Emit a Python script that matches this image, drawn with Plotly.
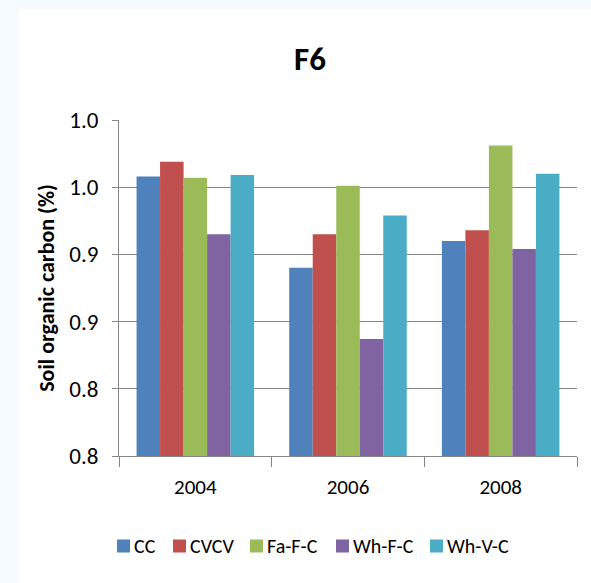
import plotly.graph_objects as go

# Soil organic carbon (%) by rotation and year, field F6
years = ["2004", "2006", "2008"]
cc = [0.958, 0.890, 0.910]
cvcv = [0.969, 0.915, 0.918]
fa_f_c = [0.957, 0.951, 0.981]
wh_f_c = [0.915, 0.837, 0.904]
wh_v_c = [0.959, 0.929, 0.960]

series_names = ["CC", "CVCV", "Fa-F-C", "Wh-F-C", "Wh-V-C"]
series_values = [cc, cvcv, fa_f_c, wh_f_c, wh_v_c]
series_colors = ["#4F81BD", "#C0504D", "#9BBB59", "#8064A2", "#4BACC6"]

y_tick_values = [0.75, 0.80, 0.85, 0.90, 0.95, 1.00]
y_tick_labels = ["0.8", "0.8", "0.9", "0.9", "1.0", "1.0"]

FONT = "Carlito, Liberation Sans, Arial, sans-serif"

W, H = 591, 583
L, R, T, B = 119, 14, 120, 127
pw, ph = W - L - R, H - T - B


def px_x(p):
    """Horizontal pixel position -> paper fraction of the plot area."""
    return (p - L) / pw


def px_y(p):
    """Vertical pixel position (from top) -> paper fraction of the plot area."""
    return (T + ph - p) / ph


fig = go.Figure()
for name, vals, col in zip(series_names, series_values, series_colors):
    fig.add_trace(go.Bar(
        x=years, y=vals, name=name, showlegend=False,
        marker=dict(color=col, line=dict(width=0)),
    ))

# faint bluish frame around the white chart area
fig.add_shape(
    type="rect", xref="paper", yref="paper", layer="below",
    x0=px_x(19), x1=px_x(W + 5), y0=px_y(H + 5), y1=px_y(9),
    fillcolor="white", line=dict(width=0),
)

# legend row below the axis: colour swatch followed by series name
legend_left = [117, 173, 250, 336, 430]
legend_mid, swatch = 546, 13
for name, col, x0 in zip(series_names, series_colors, legend_left):
    fig.add_shape(
        type="rect", xref="paper", yref="paper",
        x0=px_x(x0), x1=px_x(x0 + swatch),
        y0=px_y(legend_mid + swatch / 2), y1=px_y(legend_mid - swatch / 2),
        fillcolor=col, line=dict(width=0),
    )
    fig.add_annotation(
        text=name, xref="paper", yref="paper",
        x=px_x(x0 + swatch + 2), y=px_y(legend_mid),
        xanchor="left", yanchor="middle", showarrow=False,
        font=dict(size=20, family=FONT, color="#000000"),
    )

fig.update_layout(
    width=W, height=H,
    margin=dict(l=L, r=R, t=T, b=B, autoexpand=False),
    paper_bgcolor="#f5fbfe",
    plot_bgcolor="rgba(0,0,0,0)",
    barmode="group",
    bargap=0.23,
    bargroupgap=0,
    showlegend=False,
    font=dict(family=FONT, color="#000000", size=21),
    title=dict(
        text="<b>F6</b>", x=310 / W, xref="container", xanchor="center",
        y=1 - 58 / H, yanchor="middle", font=dict(size=33, family=FONT),
    ),
    xaxis=dict(
        type="category",
        showline=True, linecolor="#868686", linewidth=1,
        ticks="outside", tickson="boundaries", ticklen=10,
        tickcolor="#868686", tickwidth=1,
        showgrid=False,
        tickfont=dict(size=21, family=FONT),
        ticklabelstandoff=12,
    ),
    yaxis=dict(
        range=[0.75, 1.0],
        tickvals=y_tick_values, ticktext=y_tick_labels,
        showline=True, linecolor="#868686", linewidth=1,
        ticks="outside", ticklen=6, tickcolor="#868686", tickwidth=1,
        showgrid=True, gridcolor="#868686", gridwidth=1,
        zeroline=False,
        tickfont=dict(size=23, family=FONT),
        ticklabelstandoff=9,
        title=dict(
            text="<b>Soil organic carbon (%)</b>",
            font=dict(size=22, family=FONT), standoff=8,
        ),
    ),
)

fig.write_html("out.html")
